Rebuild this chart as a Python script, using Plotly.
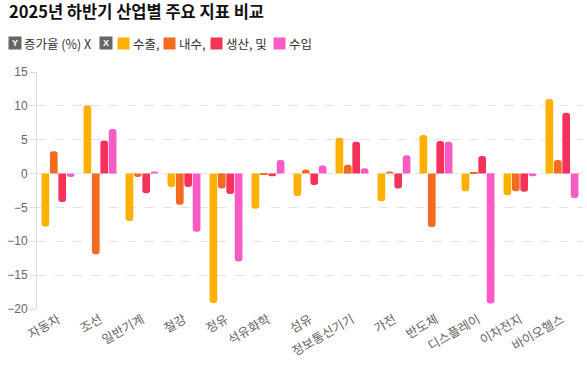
import plotly.graph_objects as go

categories = ["자동차", "조선", "일반기계", "철강", "정유", "석유화학", "섬유",
              "정보통신기기", "가전", "반도체", "디스플레이", "이차전지", "바이오헬스"]
series_names = ["수출,", "내수,", "생산, 및", "수입"]
export_vals = [-7.8, 10.1, -7.0, -2.0, -19.1, -5.2, -3.3, 5.3, -4.1, 5.7, -2.6, -3.2, 11.0]
domestic_vals = [3.3, -11.9, -0.5, -4.6, -2.2, -0.15, 0.6, 1.3, 0.3, -7.9, 0.1, -2.6, 2.0]
production_vals = [-4.2, 4.9, -2.9, -2.0, -3.0, -0.4, -1.7, 4.7, -2.2, 4.8, 2.6, -2.7, 9.0]
import_vals = [-0.5, 6.6, 0.3, -8.6, -13.0, 2.0, 1.2, 0.8, 2.7, 4.7, -19.2, -0.4, -3.6]
y_ticks = [-20, -15, -10, -5, 0, 5, 10, 15]
title_text = "2025년 하반기 산업별 주요 지표 비교"
axis_text = "증가율 (%) X"

colors = ["#FFB000", "#F26B21", "#F5325A", "#FA5AC3"]
values = [export_vals, domestic_vals, production_vals, import_vals]

KR = "Noto Sans CJK KR, sans-serif"
NUM = "Liberation Sans, Noto Sans CJK KR, sans-serif"

fig = go.Figure()
for name, vals, col in zip(series_names, values, colors):
    fig.add_trace(go.Bar(x=categories, y=vals, name=name, marker=dict(color=col, line=dict(width=0)),
                         showlegend=False))

L, T = 37, 72
def ann(px, py, **kw):
    d = dict(xref="paper", yref="paper", x=0, y=1, xanchor="left", yanchor="middle",
             xshift=px - L, yshift=T - py, showarrow=False, borderpad=0)
    d.update(kw)
    return d

annotations = []
ly = 43
annotations.append(ann(8, 11, text="<b>" + title_text + "</b>",
                       font=dict(size=16.5, color="#111", family=KR)))
annotations.append(ann(8, ly, text="<b>Y</b>", width=12, height=12, bgcolor="#666666",
                       font=dict(color="white", size=9, family=NUM), align="center"))
annotations.append(ann(23, ly, text=axis_text, font=dict(color="#333", size=12.5, family=KR)))
annotations.append(ann(99, ly, text="<b>X</b>", width=12, height=12, bgcolor="#666666",
                       font=dict(color="white", size=9, family=NUM), align="center"))
box_x = [117, 163, 210, 273]
for bx, name, col in zip(box_x, series_names, colors):
    annotations.append(ann(bx, ly, text=" ", width=11, height=11, bgcolor=col))
    annotations.append(ann(bx + 15, ly, text=name, font=dict(color="#333", size=12.5, family=KR)))

fig.update_layout(
    width=587, height=376,
    margin=dict(l=L, r=4, t=T, b=67),
    paper_bgcolor="white", plot_bgcolor="white",
    barmode="group", bargap=0.2, bargroupgap=0.08, barcornerradius=4,
    annotations=annotations,
    xaxis=dict(tickangle=-30, tickfont=dict(size=12.5, color="#666", family=KR),
               showgrid=False, showline=False, ticks="", zeroline=False),
    yaxis=dict(range=[-20, 15], tickvals=y_ticks, tickfont=dict(size=12, color="#666", family=NUM),
               showgrid=True, gridcolor="#e3e3e3", griddash="dash", gridwidth=1,
               zeroline=False, showline=True, linecolor="#dddddd", linewidth=1,
               ticks="outside", ticklen=6, tickcolor="#dddddd"),
)

fig.write_html("out.html", config={"displayModeBar": False},
               post_script="document.body.style.margin='0';document.body.style.overflow='hidden';")
